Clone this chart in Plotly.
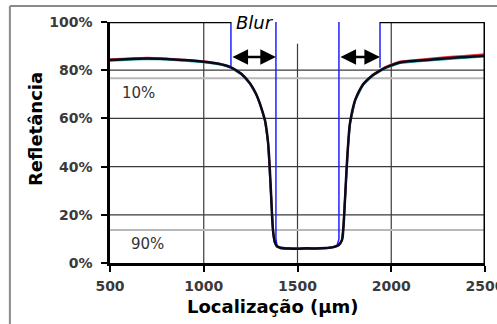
import plotly.graph_objects as go

# Measured reflectance profile across the line (position in µm, reflectance in %)
x_um = [500, 600, 700, 800, 900, 1000, 1050, 1100, 1145, 1200, 1247, 1280, 1300,
        1327, 1343, 1355, 1364, 1370, 1378, 1390, 1410, 1450, 1500, 1550, 1600,
        1650, 1690, 1720, 1737, 1745, 1753, 1761, 1769, 1780, 1807, 1849, 1903,
        1967, 2000, 2047, 2150, 2300, 2400, 2500]
refl = [84.2, 84.6, 84.9, 84.6, 84.2, 83.5, 83.0, 82.3, 81.2, 78.5, 74.5, 70.0, 66.0,
        59.0, 50.0, 35.0, 20.0, 13.0, 9.0, 7.0, 6.3, 6.0, 5.9, 6.1, 6.0,
        6.2, 6.6, 7.5, 9.5, 15.0, 26.0, 38.0, 48.0, 58.0, 67.5, 74.0, 78.0,
        81.0, 82.0, 83.2, 84.0, 85.0, 85.5, 86.0]
# Repeat measurements (mostly hidden under the main trace)
refl_red = [84.5, 85.0, 85.2, 84.9, 84.4, 83.7, 83.2, 82.4, 81.3, 78.6, 74.6, 70.1, 66.1,
            59.1, 50.2, 35.2, 20.3, 13.2, 9.0, 6.8, 6.0, 5.8, 5.8, 5.9, 5.9,
            6.1, 6.5, 7.4, 9.6, 15.2, 26.3, 38.2, 48.2, 58.2, 67.7, 74.3, 78.3,
            81.3, 82.4, 83.6, 84.5, 85.5, 86.0, 86.6]
refl_teal = [83.9, 84.3, 84.6, 84.4, 84.0, 83.3, 82.8, 82.1, 81.0, 78.3, 74.3, 69.8, 65.8,
             58.8, 49.8, 34.6, 19.6, 12.4, 8.4, 6.7, 6.2, 6.0, 5.9, 6.0, 6.0,
             6.1, 6.5, 7.4, 9.3, 14.8, 25.7, 37.8, 47.8, 57.8, 67.3, 73.8, 77.8,
             80.8, 81.8, 83.0, 83.7, 84.7, 85.2, 85.7]

# Ideal (sharp) line profile
ideal_x = [1385, 1385, 1390, 1400, 1420, 1500, 1600, 1690, 1712, 1721, 1721]
ideal_y = [100, 10, 7.5, 6.6, 6.2, 6.0, 6.0, 6.5, 7.5, 10, 100]

# Blur extents on each edge (µm) and where the blurred edge reaches 10 %
blur_left = [1145, 1385]
blur_right = [1721, 1940]
blur_marker_top = 100
blur_marker_bottom = [81.5, 81.0]
arrow_level = 85.5

# 10 % / 90 % threshold levels
thresholds = [76.7, 13.7]
threshold_labels = ["10%", "90%"]
threshold_label_pos = [(650, 70.5), (700, 7.9)]

x_ticks = [500, 1000, 1500, 2000, 2500]
y_ticks = [0, 20, 40, 60, 80, 100]
grid_y = [20, 40, 60, 80]
grid_x_full = [1000, 2000]
grid_x_partial = 1500
grid_x_partial_top = 91

fig = go.Figure()

fig.add_trace(go.Scatter(x=x_um, y=refl_teal, mode="lines",
                         line=dict(color="#2aa198", width=2), hoverinfo="skip"))
fig.add_trace(go.Scatter(x=x_um, y=refl_red, mode="lines",
                         line=dict(color="#e0303a", width=2), hoverinfo="skip"))
fig.add_trace(go.Scatter(x=ideal_x, y=ideal_y, mode="lines",
                         line=dict(color="#2020ff", width=1.5), hoverinfo="skip"))
fig.add_trace(go.Scatter(x=x_um, y=refl, mode="lines",
                         line=dict(color="#0a0a1e", width=2.5, shape="spline"),
                         hoverinfo="skip"))
# Blue markers bounding the outer end of each blur zone
fig.add_trace(go.Scatter(x=[blur_left[0], blur_left[0], None, blur_right[1], blur_right[1]],
                         y=[blur_marker_top, blur_marker_bottom[0], None,
                            blur_marker_top, blur_marker_bottom[1]],
                         mode="lines", line=dict(color="#2020ff", width=1.5),
                         hoverinfo="skip"))

shapes = []
grid_color = "#3a3a3a"
for gy in grid_y:
    shapes.append(dict(type="line", xref="x", yref="y", x0=500, x1=2500, y0=gy, y1=gy,
                       line=dict(color=grid_color, width=1.2), layer="below"))
for gx in grid_x_full:
    shapes.append(dict(type="line", xref="x", yref="y", x0=gx, x1=gx, y0=0, y1=100,
                       line=dict(color=grid_color, width=1.2), layer="below"))
shapes.append(dict(type="line", xref="x", yref="y", x0=grid_x_partial, x1=grid_x_partial,
                   y0=0, y1=grid_x_partial_top, line=dict(color=grid_color, width=1.2),
                   layer="below"))
for ty in thresholds:
    shapes.append(dict(type="line", xref="x", yref="y", x0=500, x1=2500, y0=ty, y1=ty,
                       line=dict(color="#b8b8b8", width=2), layer="below"))
# Plot frame: top edge is open over the blur region, right edge closed
shapes.append(dict(type="line", xref="x", yref="y", x0=500, x1=blur_left[0], y0=100, y1=100,
                   line=dict(color="black", width=2.5)))
shapes.append(dict(type="line", xref="x", yref="y", x0=blur_right[1], x1=2500, y0=100, y1=100,
                   line=dict(color="black", width=2.5)))
shapes.append(dict(type="line", xref="x", yref="y", x0=2500, x1=2500, y0=-3, y1=100,
                   line=dict(color="black", width=3)))
# Outer figure border
shapes.append(dict(type="line", xref="paper", yref="paper", x0=-0.267, x1=1.2,
                   y0=1.066, y1=1.066, line=dict(color="#8a8a8a", width=2)))
shapes.append(dict(type="line", xref="paper", yref="paper", x0=-0.267, x1=-0.267,
                   y0=1.066, y1=-0.4, line=dict(color="#8a8a8a", width=2)))

annotations = []
for (a, b) in (blur_left, blur_right):
    annotations.append(dict(x=b, y=arrow_level, ax=a, ay=arrow_level, xref="x", yref="y",
                            axref="x", ayref="y", text="", showarrow=True,
                            arrowhead=2, startarrowhead=2, arrowside="end+start",
                            arrowsize=1.25, startarrowsize=1.25, arrowwidth=2.5,
                            arrowcolor="black", standoff=0, startstandoff=0))
for label, (lx, ly) in zip(threshold_labels, threshold_label_pos):
    annotations.append(dict(x=lx, y=ly, xref="x", yref="y", text=label, showarrow=False,
                            xanchor="center", yanchor="middle",
                            font=dict(family="DejaVu Sans", size=15, color="#333333")))
annotations.append(dict(x=1273, y=1.0, xref="x", yref="paper", text="<i>Blur</i>",
                        showarrow=False, xanchor="center", yanchor="middle",
                        font=dict(family="DejaVu Sans", size=18, color="black")))
annotations.append(dict(x=-0.2, y=0.556, xref="paper", yref="paper", text="<b>Refletância</b>",
                        showarrow=False, textangle=-90, xanchor="center", yanchor="middle",
                        font=dict(family="DejaVu Sans", size=18, color="black")))
annotations.append(dict(x=0.435, y=-0.18, xref="paper", yref="paper",
                        text="<b>Localização (µm)</b>", showarrow=False,
                        xanchor="center", yanchor="middle",
                        font=dict(family="DejaVu Sans", size=18, color="black")))

tick_font = dict(family="DejaVu Sans", size=14, color="#3a3a3a")
fig.update_layout(
    width=497, height=324,
    margin=dict(l=110, r=12, t=22, b=61, autoexpand=False),
    paper_bgcolor="white", plot_bgcolor="white",
    showlegend=False,
    shapes=shapes, annotations=annotations,
    xaxis=dict(range=[500, 2500], tickvals=x_ticks, ticktext=[f"<b>{v}</b>" for v in x_ticks],
               showgrid=False, zeroline=False, showline=True, linecolor="black", linewidth=2.5,
               ticks="outside", ticklen=6, tickwidth=1.5, tickcolor="black",
               tickfont=tick_font, ticklabelstandoff=2, ticklabeloverflow="allow",
               automargin=False),
    yaxis=dict(range=[0, 100], tickvals=y_ticks, ticktext=[f"<b>{v}%</b>" for v in y_ticks],
               showgrid=False, zeroline=False, showline=True, linecolor="black", linewidth=2.5,
               ticks="outside", ticklen=6, tickwidth=1.5, tickcolor="black",
               tickfont=tick_font, ticklabelstandoff=6, automargin=False),
)

fig.write_html("out.html")
